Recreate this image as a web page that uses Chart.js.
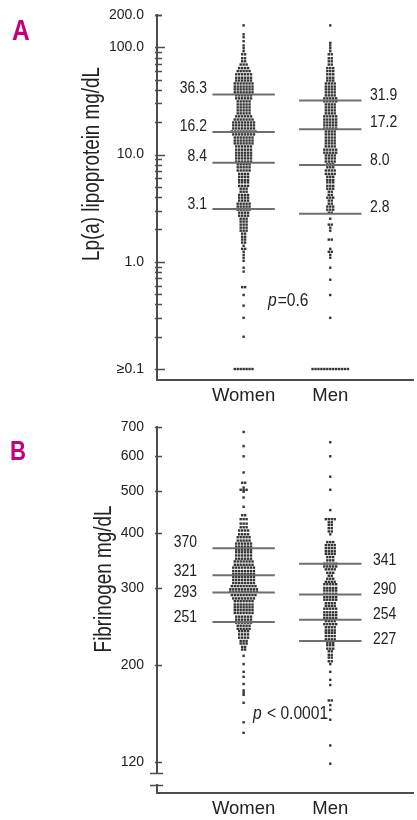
<!DOCTYPE html>
<html>
<head>
<meta charset="utf-8">
<script src="https://cdn.jsdelivr.net/npm/chart.js@4.4.1/dist/chart.umd.min.js"></script>
<style>
  html, body { margin: 0; padding: 0; background: #fff; }
  #wrap { position: relative; width: 417px; height: 820px; }
  canvas { position: absolute; left: 0; }
  #chartA { top: 0; }
  #chartB { top: 410px; }
</style>
</head>
<body>
<div id="wrap">
  <canvas id="chartA" width="417" height="410"></canvas>
  <canvas id="chartB" width="417" height="410"></canvas>
</div>
<script>
// --- data ---
const categories = ['Women', 'Men'];

// A: Lp(a) lipoprotein, each row of dots = value + number of dots in that row
const lpaWomenLevels = [160, 132, 124, 114, 104, 98, 92, 86, 79, 74, 69, 64, 60, 56, 52, 49, 46, 43, 40.5, 38, 35.6, 33.4, 31.3, 29.3, 27.5, 25.8, 24.2, 22.7, 21.2, 19.9, 18.7, 17.5, 16.4, 15.4, 14.4, 13.5, 12.7, 11.9, 11.1, 10.4, 9.8, 9.2, 8.6, 8.1, 7.6, 7.1, 6.6, 6.2, 5.8, 5.5, 5.1, 4.8, 4.5, 4.2, 3.96, 3.72, 3.48, 3.27, 3.06, 2.87, 2.69, 2.52, 2.37, 2.22, 2.08, 1.95, 1.83, 1.71, 1.61, 1.51, 1.41, 1.32, 1.24, 1.16, 1.09, 1.02, 0.88, 0.81, 0.58, 0.49, 0.39, 0.30, 0.20, 0.1];
const lpaWomenCounts = [1, 1, 1, 1, 1, 1, 1, 2, 2, 2, 3, 4, 5, 6, 6, 6, 7, 7, 7, 7, 6, 6, 5, 5, 5, 5, 5, 6, 7, 8, 8, 8, 9, 8, 7, 7, 7, 6, 6, 6, 6, 6, 6, 5, 5, 5, 4, 4, 4, 4, 4, 3, 3, 4, 4, 4, 5, 5, 5, 4, 4, 3, 3, 3, 3, 3, 2, 2, 2, 2, 1, 2, 1, 1, 1, 1, 1, 1, 2, 1, 1, 1, 1, 7];
const lpaMenLevels = [160, 110, 104, 98, 92, 86, 79, 74, 69, 64, 60, 56, 52, 49, 46, 43, 40.5, 38, 35.6, 33.4, 31.3, 29.3, 27.5, 25.8, 24.2, 22.7, 21.2, 19.9, 18.7, 17.5, 16.4, 15.4, 14.4, 13.5, 12.7, 11.9, 11.1, 10.4, 9.8, 9.2, 8.6, 8.1, 7.6, 7.1, 6.6, 6.2, 5.8, 5.5, 5.1, 4.8, 4.5, 4.2, 3.96, 3.72, 3.48, 3.27, 3.06, 2.87, 2.52, 2.22, 2.08, 1.95, 1.61, 1.32, 1.24, 1.16, 1.09, 0.88, 0.68, 0.49, 0.30, 0.1];
const lpaMenCounts = [1, 1, 1, 1, 1, 2, 2, 2, 2, 3, 3, 3, 3, 3, 4, 4, 4, 4, 4, 5, 5, 4, 4, 4, 4, 5, 5, 5, 5, 5, 4, 4, 4, 4, 4, 4, 5, 5, 4, 4, 4, 3, 3, 4, 4, 3, 3, 3, 3, 3, 2, 2, 3, 2, 2, 3, 3, 2, 1, 2, 1, 1, 2, 1, 2, 1, 1, 1, 1, 1, 1, 13];
const lpaWomenPct = [36.3, 16.2, 8.4, 3.1];
const lpaMenPct = [31.9, 17.2, 8.0, 2.8];
const lpaTicks = [0.1, 1, 10, 100, 200];
const lpaTickLabels = ['≥0.1', '1.0', '10.0', '100.0', '200.0'];
const lpaP = '=0.6';

// B: fibrinogen
const fibWomenLevels = [682, 633, 600, 551, 522, 509, 503, 498, 483, 460, 440, 431, 421, 413, 406, 398, 392, 385, 379, 373, 367, 362, 356, 350, 345, 339, 334, 328, 323, 318, 313, 308, 303, 298, 294, 289, 284, 280, 275, 271, 267, 263, 258, 254, 250, 246, 242, 239, 235, 231, 227, 224, 220, 217, 210, 201, 193, 188, 181, 175, 173, 171, 164, 148, 140];
const fibWomenCounts = [1, 1, 1, 1, 2, 1, 3, 1, 1, 1, 2, 3, 3, 3, 4, 4, 5, 5, 6, 6, 6, 6, 6, 6, 7, 7, 8, 8, 8, 8, 8, 8, 9, 10, 10, 9, 8, 7, 7, 7, 7, 7, 6, 6, 6, 5, 5, 4, 4, 4, 3, 3, 2, 2, 1, 1, 1, 1, 1, 1, 1, 1, 1, 1, 1];
const fibMenLevels = [646, 600, 539, 503, 452, 431, 424, 418, 411, 404, 398, 382, 376, 370, 364, 359, 353, 347, 341, 336, 331, 325, 320, 315, 310, 306, 300, 296, 291, 286, 282, 277, 273, 269, 264, 260, 256, 252, 248, 244, 240, 237, 233, 229, 225, 222, 218, 215, 211, 208, 204, 201, 193, 185, 180, 166, 162, 158, 150, 131, 119];
const fibMenCounts = [1, 1, 1, 1, 1, 4, 2, 2, 2, 2, 1, 3, 4, 4, 4, 4, 3, 3, 5, 5, 4, 3, 2, 3, 4, 5, 5, 5, 5, 5, 5, 4, 4, 5, 5, 5, 5, 4, 5, 4, 4, 4, 4, 4, 3, 3, 3, 2, 2, 2, 2, 1, 1, 1, 1, 2, 1, 1, 1, 1, 1];
const fibWomenPct = [370, 321, 293, 251];
const fibMenPct = [341, 290, 254, 227];
const fibTicks = [120, 200, 300, 400, 500, 600, 700];
const fibTickLabels = ['120', '200', '300', '400', '500', '600', '700'];
const fibP = ' < 0.0001';

// --- styling ---
const FONT = '"Liberation Sans", Arial, sans-serif';
const NARROW = 0.82;         // horizontal squeeze for hand drawn text
const axisColor = '#4d4d4d';
const textColor = '#222';
const dotColor = 'rgba(15, 15, 15, 0.85)';
const pctColor = '#6f6f6f';
const dotStep = 3 / 88;      // one dot width in x units
const pctHalf = 0.36;        // half length of percentile bars

function swarm(center, levels, counts) {
  const pts = [];
  levels.forEach((v, i) => {
    const n = counts[i];
    for (let j = 0; j < n; j++) {
      pts.push({ x: center + (j - (n - 1) / 2) * dotStep, y: v });
    }
  });
  return pts;
}

function pctLines(center, values) {
  return values.map(v => ({
    type: 'line',
    data: [{ x: center - pctHalf, y: v }, { x: center + pctHalf, y: v }],
    showLine: true,
    borderColor: pctColor,
    borderWidth: 2,
    pointRadius: 0,
    order: 0
  }));
}

function dotSet(center, levels, counts) {
  return {
    data: swarm(center, levels, counts),
    pointStyle: 'rect',
    pointRadius: 1.7,
    borderWidth: 0,
    backgroundColor: dotColor,
    order: 1
  };
}

// narrow text: squeeze horizontally around the anchor point
function narrowText(c, txt, x, y, align, rot) {
  c.save();
  c.translate(x, y);
  if (rot) c.rotate(rot);
  c.scale(NARROW, 1);
  c.textAlign = align;
  c.fillText(txt, 0, 0);
  c.restore();
}

// draws text and axis bits that are not part of the datasets
function makeDecor(cfg) {
  return {
    id: 'decor',
    afterDraw(chart) {
      const c = chart.ctx;
      const y = chart.scales.y;
      const left = chart.chartArea.left;
      c.save();

      // inward tick marks
      c.strokeStyle = axisColor;
      c.lineWidth = 1.5;
      cfg.tickMarks.forEach(t => {
        const py = Math.round(y.getPixelForValue(t.v)) + 0.5;
        c.beginPath();
        c.moveTo(left - 2, py);
        c.lineTo(left + t.len, py);
        c.stroke();
      });

      // axis break
      if (cfg.axisBreak) {
        const b = cfg.axisBreak;
        c.fillStyle = '#fff';
        c.fillRect(left - 3, b.y1 + 1, 6, b.y2 - b.y1 - 2);
        c.lineWidth = 1.5;
        [b.y1, b.y2].forEach(py => {
          c.beginPath();
          c.moveTo(left - 7, py + 0.5);
          c.lineTo(left + 6, py + 0.5);
          c.stroke();
        });
      }

      // percentile labels
      c.fillStyle = textColor;
      c.font = '17px ' + FONT;
      c.textBaseline = 'middle';
      cfg.womenPct.forEach((v, i) => {
        narrowText(c, v.toFixed(cfg.digits), cfg.womenLabelX, y.getPixelForValue(v) + cfg.womenNudge[i], 'right');
      });
      cfg.menPct.forEach((v, i) => {
        narrowText(c, v.toFixed(cfg.digits), cfg.menLabelX, y.getPixelForValue(v) + cfg.menNudge[i], 'left');
      });

      // p value
      c.font = 'italic 19px ' + FONT;
      narrowText(c, 'p', cfg.pX, cfg.pY, 'left');
      const pw = c.measureText('p').width * NARROW;
      c.font = '19px ' + FONT;
      narrowText(c, cfg.pText, cfg.pX + pw + 1, cfg.pY, 'left');

      // y axis title
      c.font = '23px ' + FONT;
      c.textBaseline = 'alphabetic';
      narrowText(c, cfg.title, cfg.titleX, cfg.titleY, 'center', -Math.PI / 2);

      // panel letter
      c.fillStyle = '#c4007c';
      c.font = 'bold ' + cfg.letterSize + 'px ' + FONT;
      narrowText(c, cfg.letter, cfg.letterX, cfg.letterY, 'left');

      c.restore();
    }
  };
}

function makeChart(id, cfg) {
  const ctx = document.getElementById(id).getContext('2d');
  return new Chart(ctx, {
    type: 'scatter',
    data: {
      datasets: [
        ...pctLines(1, cfg.womenPct),
        ...pctLines(2, cfg.menPct),
        dotSet(1, cfg.womenLevels, cfg.womenCounts),
        dotSet(2, cfg.menLevels, cfg.menCounts)
      ]
    },
    options: {
      responsive: false,
      animation: false,
      layout: { padding: { top: cfg.top, left: 0, right: 0, bottom: 0 } },
      plugins: { legend: { display: false }, tooltip: { enabled: false } },
      scales: {
        x: {
          type: 'linear',
          min: 0,
          max: 2.955,
          grid: { display: false },
          border: { display: true, color: axisColor, width: 2 },
          afterBuildTicks: s => { s.ticks = [{ value: 1 }, { value: 2 }]; },
          afterFit: s => { s.height = cfg.xHeight; s.paddingLeft = 0; s.paddingRight = 0; },
          ticks: {
            callback: v => categories[v - 1],
            color: textColor,
            font: { family: FONT, size: 18.5 },
            padding: -3,
            maxRotation: 0,
            autoSkip: false
          }
        },
        y: {
          type: 'logarithmic',
          min: cfg.yMin,
          max: cfg.yMax,
          grid: { display: false },
          border: { display: true, color: axisColor, width: 2 },
          afterBuildTicks: s => { s.ticks = cfg.ticks.map(v => ({ value: v })); },
          afterFit: s => { s.width = 157; s.paddingTop = 0; s.paddingBottom = 0; },
          ticks: {
            callback: (v, i) => cfg.tickLabels[i],
            color: textColor,
            font: { family: FONT, size: 14 },
            padding: 5,
            autoSkip: false
          }
        }
      }
    },
    plugins: [makeDecor(cfg)]
  });
}

// minor tick marks for the log axis of panel A
const lpaMarks = [];
[0.1, 1, 10, 100].forEach(d => {
  for (let k = 1; k <= 9; k++) {
    const v = +(k * d).toPrecision(3);
    if (v <= 200) lpaMarks.push({ v: v, len: k === 1 ? 8 : 5 });
  }
});
lpaMarks.push({ v: 200, len: 5 });

makeChart('chartA', {
  top: 15, xHeight: 30, yMin: 0.079, yMax: 200,
  ticks: lpaTicks, tickLabels: lpaTickLabels, tickMarks: lpaMarks,
  womenLevels: lpaWomenLevels, womenCounts: lpaWomenCounts,
  menLevels: lpaMenLevels, menCounts: lpaMenCounts,
  womenPct: lpaWomenPct, menPct: lpaMenPct, digits: 1,
  womenLabelX: 207, menLabelX: 370,
  womenNudge: [-6, -6, -6, -5], menNudge: [-5, -7, -5, -7],
  pX: 268, pY: 301, pText: lpaP,
  title: 'Lp(a) lipoprotein mg/dL', titleX: 99, titleY: 164,
  letter: 'A', letterX: 12, letterY: 40, letterSize: 30
});

makeChart('chartB', {
  top: 17, xHeight: 27, yMin: 102, yMax: 700,
  ticks: fibTicks, tickLabels: fibTickLabels,
  tickMarks: fibTicks.map(v => ({ v: v, len: 5 })),
  axisBreak: { y1: 363, y2: 375 },
  womenLevels: fibWomenLevels, womenCounts: fibWomenCounts,
  menLevels: fibMenLevels, menCounts: fibMenCounts,
  womenPct: fibWomenPct, menPct: fibMenPct, digits: 0,
  womenLabelX: 197, menLabelX: 373,
  womenNudge: [-6, -4, 0, -5], menNudge: [-3, -5, -5, -2],
  pX: 253, pY: 304, pText: fibP,
  title: 'Fibrinogen mg/dL', titleX: 111, titleY: 169,
  letter: 'B', letterX: 10, letterY: 50, letterSize: 27
});
</script>
</body>
</html>
